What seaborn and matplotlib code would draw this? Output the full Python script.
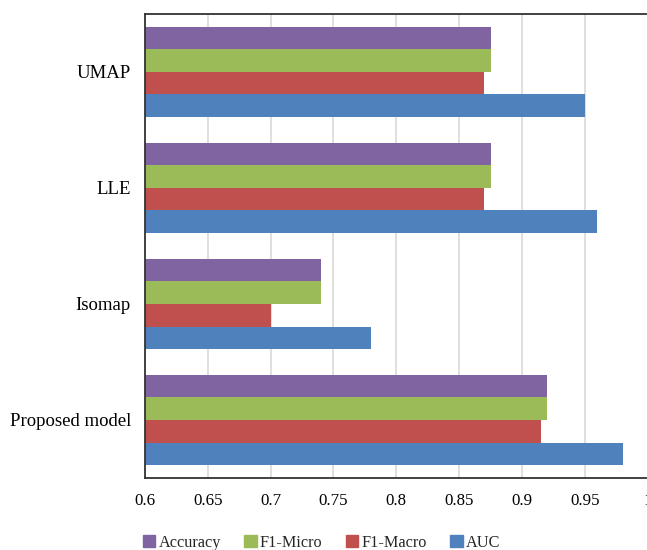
import pandas as pd
import matplotlib.pyplot as plt
import seaborn as sns

# Scores
models = ['UMAP', 'LLE', 'Isomap', 'Proposed model']
metrics = ['Accuracy', 'F1-Micro', 'F1-Macro', 'AUC']
accuracy = [0.875, 0.875, 0.74, 0.92]
f1_micro = [0.875, 0.875, 0.74, 0.92]
f1_macro = [0.87, 0.87, 0.70, 0.915]
auc = [0.95, 0.96, 0.78, 0.98]
x_ticks = [0.6, 0.65, 0.7, 0.75, 0.8, 0.85, 0.9, 0.95, 1.0]
x_tick_labels = ['0.6', '0.65', '0.7', '0.75', '0.8', '0.85', '0.9', '0.95', '1']

colors = ['#8064A2', '#9BBB59', '#C0504D', '#4F81BD']

# Long-form table for seaborn
rows = []
for metric, vals in zip(metrics, [accuracy, f1_micro, f1_macro, auc]):
    for model, v in zip(models, vals):
        rows.append({'model': model, 'metric': metric, 'score': v})
df = pd.DataFrame(rows)

sns.set_style('white')
plt.rcParams['font.family'] = ['Liberation Serif', 'DejaVu Serif']

fig = plt.figure(figsize=(6.47, 5.5), dpi=100)
ax = fig.add_axes([0.224, 0.131, 0.777, 0.844])

sns.barplot(data=df, x='score', y='model', hue='metric', order=models,
            hue_order=metrics, palette=colors, orient='h', width=0.78,
            saturation=1, linewidth=0, ax=ax, legend=False)

ax.set_xlim(0.6, 1.0)
ax.set_xticks(x_ticks)
ax.set_xticklabels(x_tick_labels)
ax.xaxis.grid(True, color='#d9d9d9', linewidth=1.2)
ax.set_axisbelow(True)
ax.set_xlabel('')
ax.set_ylabel('')
ax.tick_params(axis='x', length=0, labelsize=12.2, colors='black', pad=11)
ax.tick_params(axis='y', length=0, labelsize=13.5, colors='black', pad=10)

for side in ['left', 'bottom', 'top']:
    ax.spines[side].set_color('#333333')
    ax.spines[side].set_linewidth(1.3)
ax.spines['right'].set_visible(False)

handles = [plt.Rectangle((0, 0), 1, 1, color=c) for c in colors]
fig.legend(handles, metrics, loc='lower center', bbox_to_anchor=(0.497, -0.028),
           ncol=4, frameon=False, fontsize=11.7, handlelength=0.75,
           handleheight=0.75, handletextpad=0.2, columnspacing=1.45)

plt.savefig('out.png', dpi=100)
